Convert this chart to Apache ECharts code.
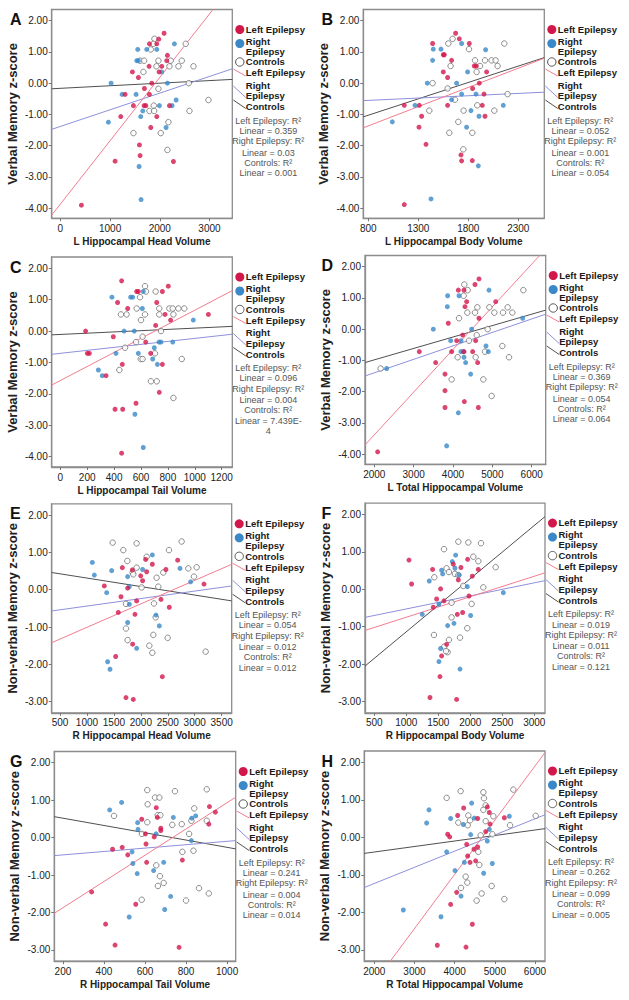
<!DOCTYPE html>
<html><head><meta charset="utf-8">
<script src="https://cdn.jsdelivr.net/npm/echarts@6/dist/echarts.min.js"></script>
<style>html,body{margin:0;padding:0;background:#fff}#c{width:629px;height:1000px}</style>
</head><body><div id="c"></div>
<script>
// ---------------- DATA ----------------
const panelLetters = ['A','B','C','D','E','F','G','H'];
const xTitles = ['L Hippocampal Head Volume','L Hippocampal Body Volume','L Hippocampal Tail Volume','L Total Hippocampal Volume','R Hippocampal Head Volume','R Hippocampal Body Volume','R Hippocampal Tail Volume','R Total Hippocampal Volume'];
const yTitles = ['Verbal Memory z-score','Verbal Memory z-score','Verbal Memory z-score','Verbal Memory z-score','Non-verbal Memory z-score','Non-verbal Memory z-score','Non-verbal Memory z-score','Non-verbal Memory z-score'];
const xTickA = [0,1000,2000,3000];
const xTickB = [800,1300,1800,2300];
const xTickC = [0,200,400,600,800,1000,1200];
const xTickD = [2000,3000,4000,5000,6000];
const xTickE = [500,1000,1500,2000,2500,3000,3500];
const xTickF = [500,1000,1500,2000,2500,3000];
const xTickG = [200,400,600,800,1000];
const xTickH = [2000,3000,4000,5000,6000];
const yTickVerbal = [-4,-3,-2,-1,0,1,2];
const yTickNonverbal = [-3,-2,-1,0,1,2];
const groupNames = ['Left Epilepsy','Right Epilepsy','Controls'];
const r2Left  = ['0.359','0.052','0.096','0.369','0.054','0.019','0.241','0.262'];
const r2Right = ['0.03','0.001','0.004','0.054','0.012','0.011','0.004','0.099'];
const r2Ctrl  = ['0.001','0.054','7.439E-4','0.064','0.012','0.121','0.014','0.005'];

// Panel A
const aLeft = [[2087,1.60],[1980,1.41],[1792,1.26],[1940,1.26],[2154,0.89],[2141,0.72],[1785,0.54],[2040,0.54],[1450,0.36],[1987,0.36],[1570,0.18],[1839,0.00],[1691,-0.17],[1302,-0.36],[1792,-0.36],[1470,-0.72],[1685,-0.72],[1720,-0.72],[2195,-0.72],[1215,-1.07],[1940,-1.07],[1819,-1.42],[1591,-1.98],[1604,-2.32],[1101,-2.50],[2275,-2.51],[423,-3.91]];
const aRight = [[2295,1.26],[1557,1.08],[1738,1.08],[1940,1.08],[1537,0.72],[1570,0.72],[2040,0.36],[1020,0.00],[2154,0.00],[1242,-0.36],[1523,-0.36],[2329,-0.54],[1993,-0.72],[2248,-0.72],[1658,-0.89],[1617,-1.07],[966,-1.25],[2127,-1.42],[1584,-2.67],[1624,-3.73]];
const aCtrl = [[1893,1.42],[2523,1.26],[1872,1.26],[1819,1.08],[1604,0.72],[1685,0.72],[1973,0.72],[2221,0.72],[2443,0.72],[1933,0.54],[2195,0.54],[2376,0.54],[2678,0.54],[1671,0.36],[2584,0.00],[1973,-0.18],[2980,-0.54],[1879,-0.72],[1792,-0.89],[1886,-0.89],[2597,-0.89],[2174,-1.25],[1470,-1.60],[2020,-1.60],[2154,-2.14]];
const aFitLeft = [[-175,-4.23],[3460,3.15]];
const aFitRight = [[-175,-1.48],[3460,0.46]];
const aFitCtrl = [[-175,-0.18],[3460,0.12]];

// Panel B
const bLeft = [[1673,1.60],[1710,1.42],[1443,1.27],[1810,1.27],[1550,0.91],[1560,0.91],[1633,0.73],[1860,0.55],[1880,0.55],[1550,0.36],[1983,0.36],[1593,0.18],[1910,0.00],[1843,-0.17],[1957,-0.35],[1160,-0.71],[1310,-0.71],[1593,-0.71],[1940,-0.71],[1333,-1.06],[1967,-1.06],[1307,-1.41],[1377,-1.96],[1727,-2.30],[1733,-2.49],[1840,-2.48],[1160,-3.89]];
const bRight = [[1450,1.09],[1527,1.09],[1733,1.27],[1973,1.07],[1443,0.73],[1793,0.36],[1390,0.00],[1683,0.00],[1733,-0.35],[1877,-0.35],[1633,-0.53],[1267,-0.71],[2150,-0.71],[1827,-0.88],[1907,-1.06],[1040,-1.24],[1783,-1.41],[1900,-2.65],[1427,-3.71]];
const bCtrl = [[1643,1.42],[1600,1.27],[2160,1.27],[1807,1.09],[1867,0.73],[1967,0.73],[2033,0.73],[2073,0.73],[1623,0.55],[1917,0.55],[2093,0.55],[1883,0.36],[1443,0.00],[1593,-0.17],[1667,-0.53],[2193,-0.35],[1410,-0.88],[1753,-0.88],[1890,-0.71],[2060,-0.88],[1700,-1.24],[1610,-1.59],[1840,-1.59],[1750,-2.12]];
const bFitLeft = [[750,-1.43],[2560,0.80]];
const bFitRight = [[750,-0.56],[2560,-0.29]];
const bFitCtrl = [[750,-1.08],[2560,0.82]];

// Panel C
const cLeft = [[456,1.60],[803,1.43],[568,1.26],[580,1.26],[759,1.26],[426,0.91],[717,0.91],[501,0.72],[779,0.53],[820,0.35],[1101,0.53],[188,0.00],[709,0.18],[394,-0.18],[635,-0.35],[201,-0.71],[216,-0.71],[672,-0.71],[461,-1.06],[759,-1.06],[340,-1.42],[736,-1.95],[563,-2.30],[407,-2.49],[464,-2.49],[456,-3.89]];
const cRight = [[384,1.08],[523,1.08],[538,1.08],[617,1.26],[610,0.72],[989,0.35],[474,0.00],[550,0.00],[734,-0.35],[749,-0.35],[836,-0.35],[414,-0.71],[580,-0.71],[699,-0.53],[687,-0.89],[722,-1.06],[283,-1.24],[312,-1.42],[555,-2.65],[617,-3.71]];
const cCtrl = [[630,1.43],[637,1.26],[709,1.26],[593,1.08],[568,0.72],[736,0.72],[811,0.72],[836,0.72],[878,0.72],[922,0.72],[451,0.53],[493,0.53],[630,0.53],[736,0.53],[841,0.53],[600,0.35],[749,0.00],[612,-0.18],[563,-0.35],[481,-0.53],[598,-0.89],[612,-0.89],[704,-0.71],[903,-0.89],[439,-1.24],[674,-1.60],[717,-1.60],[841,-2.13]];
const cFitLeft = [[-64,-1.72],[1279,1.29]];
const cFitRight = [[-64,-0.74],[1279,-0.10]];
const cFitCtrl = [[-64,-0.12],[1279,0.15]];

// Panel D
const dLeft = [[4661,1.61],[4559,1.43],[4136,1.25],[4280,1.25],[4347,0.88],[5085,0.88],[4305,0.72],[4661,0.35],[3881,0.19],[4246,-0.19],[4093,-0.37],[4576,-0.37],[3144,-0.72],[3966,-0.72],[4280,-0.72],[4500,-0.72],[3559,-1.07],[4627,-1.07],[3797,-1.44],[3797,-1.97],[4288,-2.32],[3797,-2.51],[4644,-2.51],[2085,-3.93]];
const dRight = [[3864,1.07],[4153,1.07],[4915,1.25],[3856,0.72],[5771,0.35],[3500,0.00],[4475,0.00],[3941,-0.37],[4203,-0.37],[4203,-0.72],[4263,-0.72],[4898,-0.72],[4839,-0.54],[4280,-0.90],[4322,-1.07],[2314,-1.26],[4449,-1.44],[4136,-2.68],[3839,-3.74]];
const dCtrl = [[4288,1.43],[4373,1.25],[5788,1.25],[4271,1.07],[4619,0.70],[4924,0.70],[5390,0.70],[4364,0.53],[4559,0.53],[5051,0.53],[5271,0.53],[5508,0.53],[4153,0.35],[4881,0.00],[4602,-0.19],[4407,-0.37],[5254,-0.54],[4814,-0.72],[4119,-0.90],[4576,-0.90],[5424,-0.90],[2161,-1.26],[3966,-1.61],[4771,-1.61],[4983,-2.14]];
const dFitLeft = [[1764,-3.71],[6356,2.57]];
const dFitRight = [[1764,-1.50],[6356,0.48]];
const dFitCtrl = [[1764,-1.07],[6356,0.61]];

// Panel E
const eLeft = [[2089,0.81],[2213,0.68],[2683,0.79],[1656,0.59],[2466,0.54],[1842,0.53],[2108,0.48],[1997,0.37],[2033,0.24],[1322,0.10],[3172,0.15],[1755,0.04],[1632,-0.19],[1922,-0.30],[2374,-0.26],[2528,-0.47],[1582,-0.61],[1891,-0.66],[1848,-1.46],[1533,-1.79],[2399,-2.33],[1724,-2.89],[1860,-2.94]];
const eRight = [[1100,0.73],[2213,0.93],[2726,0.57],[1137,0.39],[1459,0.51],[1755,0.35],[2033,0.54],[2924,0.21],[1786,0.08],[1366,-0.08],[1786,-0.39],[2281,-0.68],[1755,-0.88],[2343,-0.97],[1922,-1.57],[1384,-1.93],[1428,-2.13]];
const eCtrl = [[1477,1.26],[1922,1.24],[2757,1.29],[1675,1.06],[2522,1.06],[2108,0.88],[1749,0.77],[1922,0.59],[1848,0.46],[1860,0.41],[2417,0.46],[2881,0.57],[3036,0.60],[2986,0.35],[2293,0.32],[2324,0.08],[2015,0.06],[1724,-0.38],[2244,-0.37],[2275,-0.74],[1724,-1.04],[1755,-1.35],[2232,-1.21],[2498,-1.29],[2157,-1.50],[2213,-1.69],[3203,-1.66]];
const eFitLeft = [[346,-1.42],[3686,0.68]];
const eFitRight = [[346,-0.57],[3686,0.10]];
const eFitCtrl = [[346,0.46],[3686,-0.30]];

// Panel F
const fLeft = [[1042,0.78],[1083,0.14],[1411,0.53],[1536,0.01],[1474,-0.26],[1422,-0.48],[1589,-0.31],[1734,0.67],[1854,0.58],[1813,0.25],[1958,0.80],[2031,0.35],[2125,0.53],[1979,-0.18],[1880,-0.62],[1797,-0.67],[1630,-1.47],[1552,-1.78],[1526,-2.33],[1370,-2.89],[1786,-2.94]];
const fRight = [[1771,0.91],[1719,0.74],[1552,0.51],[1568,0.41],[1760,0.56],[1823,0.38],[1359,0.22],[1953,0.07],[2516,-0.09],[1510,-0.40],[1250,-0.67],[2005,-0.70],[1646,-0.97],[1745,-0.91],[1536,-1.58],[1510,-1.93],[1839,-2.13]];
const fCtrl = [[1813,1.27],[1969,1.25],[2167,1.23],[1589,1.07],[2047,0.87],[2125,0.75],[1438,0.32],[1630,0.56],[1667,0.46],[1760,0.41],[1813,0.38],[2396,0.59],[2203,0.05],[1891,0.09],[2021,-0.39],[1708,-0.36],[1708,-0.75],[1953,-1.04],[1432,-1.22],[1667,-1.35],[1839,-1.29],[1594,-1.53],[1646,-1.68],[1620,-1.65]];
const fFitLeft = [[355,-1.10],[3167,0.44]];
const fFitRight = [[355,-0.75],[3167,0.23]];
const fFitCtrl = [[355,-2.05],[3167,1.94]];

// Panel G
const gLeft = [[442,-0.31],[489,-0.26],[516,-0.46],[584,0.49],[602,0.10],[605,-0.17],[655,0.80],[660,0.54],[645,0.02],[677,0.25],[677,0.19],[914,0.83],[911,0.36],[943,0.68],[782,-0.60],[608,-0.66],[340,-1.45],[555,-1.78],[408,-2.31],[454,-2.87],[766,-2.93]];
const gRight = [[428,0.74],[486,0.94],[564,0.40],[566,0.22],[654,0.10],[738,0.54],[828,0.52],[847,0.58],[826,-0.08],[537,-0.38],[541,-0.69],[562,-0.96],[642,-0.88],[691,-0.66],[725,-1.57],[696,-1.92],[523,-2.12]];
const gCtrl = [[449,0.58],[611,1.27],[613,0.89],[649,1.07],[670,1.07],[746,1.24],[901,1.29],[611,0.41],[662,0.60],[675,0.60],[585,0.10],[733,0.34],[779,0.36],[840,0.78],[826,0.45],[901,0.45],[815,0.10],[782,-0.38],[836,-0.35],[655,-0.74],[673,-1.03],[691,-1.21],[663,-1.29],[584,-1.66],[800,-1.68],[863,-1.35],[911,-1.49]];
const gFitLeft = [[158,-2.02],[1042,1.08]];
const gFitRight = [[158,-0.48],[1042,-0.08]];
const gFitCtrl = [[158,0.56],[1042,-0.30]];

// Panel H
const hLeft = [[4224,0.78],[4813,0.81],[4863,0.66],[4075,0.58],[4573,0.50],[5237,0.52],[4880,0.35],[4772,0.15],[3826,0.08],[3876,0.01],[4299,-0.19],[4573,-0.26],[4481,-0.32],[4324,-0.50],[4382,-0.67],[4523,-0.63],[4050,-1.47],[3900,-1.79],[4440,-2.32],[3568,-2.88],[4282,-2.93]];
const hRight = [[3361,0.73],[3303,0.38],[3900,0.50],[4423,0.91],[4216,0.34],[4490,0.51],[5361,0.56],[4398,0.07],[4863,0.21],[4813,-0.10],[3801,-0.39],[4241,-0.67],[4938,-0.70],[4008,-0.89],[4722,-0.96],[4158,-1.57],[2722,-1.94],[3660,-2.12]];
const hCtrl = [[3801,1.05],[4149,1.23],[4714,1.20],[4730,1.04],[4772,0.85],[4714,0.73],[5461,1.27],[6017,0.57],[4340,0.58],[4382,0.45],[4091,0.39],[4324,0.32],[4772,0.43],[4963,0.56],[5378,0.32],[4647,0.05],[4938,0.08],[4589,-0.39],[4614,-0.74],[4274,-1.05],[4315,-1.21],[4158,-1.35],[4672,-1.50],[4548,-1.69],[4921,-1.30],[5237,-1.65]];
const hFitLeft = [[1751,-4.24],[6249,2.26]];
const hFitRight = [[1751,-1.34],[6249,0.60]];
const hFitCtrl = [[1751,-0.43],[6249,0.23]];

// ---------------- LAYOUT / STYLE ----------------
const leftSets  = [aLeft,bLeft,cLeft,dLeft,eLeft,fLeft,gLeft,hLeft];
const rightSets = [aRight,bRight,cRight,dRight,eRight,fRight,gRight,hRight];
const ctrlSets  = [aCtrl,bCtrl,cCtrl,dCtrl,eCtrl,fCtrl,gCtrl,hCtrl];
const fitLeftSets  = [aFitLeft,bFitLeft,cFitLeft,dFitLeft,eFitLeft,fFitLeft,gFitLeft,hFitLeft];
const fitRightSets = [aFitRight,bFitRight,cFitRight,dFitRight,eFitRight,fFitRight,gFitRight,hFitRight];
const fitCtrlSets  = [aFitCtrl,bFitCtrl,cFitCtrl,dFitCtrl,eFitCtrl,fFitCtrl,gFitCtrl,hFitCtrl];
const xTickSets = [xTickA,xTickB,xTickC,xTickD,xTickE,xTickF,xTickG,xTickH];

const layout = [
  {left:51.7, top:9.5,   width:180.6, height:208.8, x:[-175,3460], y:[-4.33,2.36]},
  {left:363.3,top:9.5,   width:181,   height:208.8, x:[750,2560],  y:[-4.33,2.36]},
  {left:51.7, top:257,   width:180.6, height:210,   x:[-64,1279],  y:[-4.33,2.36]},
  {left:365,  top:255.5, width:180.7, height:208.8, x:[1764,6356], y:[-4.33,2.36]},
  {left:51.7, top:503.8, width:180,   height:209.1, x:[346,3686],  y:[-3.3,2.3]},
  {left:365,  top:503.1, width:180,   height:209.8, x:[355,3167],  y:[-3.3,2.3]},
  {left:54.3, top:751.5, width:181.4, height:209.7, x:[158,1042],  y:[-3.3,2.3]},
  {left:364.3,top:751,   width:180.7, height:210,   x:[1751,6249], y:[-3.3,2.3]}
];

const RED='#d2174b', BLUE='#3a88c8', PINK='#f27d90', LAV='#8e90dc', DARK='#505050';
const FONT='"Liberation Sans", Arial, sans-serif';

const grids=[], xAxes=[], yAxes=[], series=[], graphics=[];
layout.forEach((L,i)=>{
  grids.push({left:L.left, top:L.top, width:L.width, height:L.height, show:true, borderColor:'#8c8c8c', borderWidth:1.3, backgroundColor:'#fff'});
  xAxes.push({type:'value', gridIndex:i, min:L.x[0], max:L.x[1],
    name:xTitles[i], nameLocation:'middle', nameGap:18,
    nameTextStyle:{fontFamily:FONT, fontWeight:'bold', fontSize:10, color:'#222'},
    axisLine:{show:true, onZero:false, lineStyle:{color:'#8c8c8c', width:1.3}},
    axisTick:{show:true, length:3, customValues:xTickSets[i], lineStyle:{color:'#777'}},
    axisLabel:{customValues:xTickSets[i], margin:5, fontFamily:FONT, fontSize:10, color:'#222', formatter:v=>String(Math.round(v))},
    splitLine:{show:false}});
  const yt = i<4 ? yTickVerbal : yTickNonverbal;
  yAxes.push({type:'value', gridIndex:i, min:L.y[0], max:L.y[1],
    name:yTitles[i], nameLocation:'middle', nameGap:33, nameRotate:90,
    nameTextStyle:{fontFamily:FONT, fontWeight:'bold', fontSize:13, color:'#222'},
    axisLine:{show:true, onZero:false, lineStyle:{color:'#8c8c8c', width:1.3}},
    axisTick:{show:true, length:3, customValues:yt, lineStyle:{color:'#777'}},
    axisLabel:{customValues:yt, margin:4, fontFamily:FONT, fontSize:10, color:'#222', formatter:v=>v.toFixed(2)},
    splitLine:{show:false}});
  const common={xAxisIndex:i, yAxisIndex:i};
  series.push(Object.assign({type:'line', data:fitCtrlSets[i], symbol:'none', lineStyle:{color:DARK,width:1}, silent:true, z:3, clip:true},common));
  series.push(Object.assign({type:'line', data:fitRightSets[i], symbol:'none', lineStyle:{color:LAV,width:1}, silent:true, z:3, clip:true},common));
  series.push(Object.assign({type:'line', data:fitLeftSets[i], symbol:'none', lineStyle:{color:PINK,width:1}, silent:true, z:3, clip:true},common));
  series.push(Object.assign({type:'scatter', name:groupNames[2], data:ctrlSets[i], symbolSize:5.5, itemStyle:{color:'#fff', borderColor:'#707070', borderWidth:1}, z:4},common));
  series.push(Object.assign({type:'scatter', name:groupNames[1], data:rightSets[i], symbolSize:5, itemStyle:{color:BLUE}, z:5},common));
  series.push(Object.assign({type:'scatter', name:groupNames[0], data:leftSets[i], symbolSize:5, itemStyle:{color:RED}, z:5},common));

  // panel letter
  const col = i%2;
  graphics.push({type:'text', style:{text:panelLetters[i], x: col===0?10:321.5, y:L.top+10, fill:'#111', font:'bold 16px '+FONT, textVerticalAlign:'middle', verticalAlign:'middle'}});
  // legend
  const R=L.left+L.width, T=L.top;
  const lt=(txt,dy)=>graphics.push({type:'text', style:{text:txt, x:R+13.5, y:T+dy, fill:'#1a1a1a', font:'bold 9.5px '+FONT, textVerticalAlign:'middle', verticalAlign:'middle'}});
  graphics.push({type:'circle', shape:{cx:R+7.5, cy:T+20, r:4.5}, style:{fill:RED}});
  lt(groupNames[0],19.8);
  graphics.push({type:'circle', shape:{cx:R+7.5, cy:T+34, r:4.5}, style:{fill:BLUE}});
  lt('Right',31.5); lt('Epilepsy',41.5);
  graphics.push({type:'circle', shape:{cx:R+7.5, cy:T+52.5, r:4.2}, style:{fill:'#fff', stroke:'#555', lineWidth:1}});
  lt(groupNames[2],52.3);
  graphics.push({type:'line', shape:{x1:R+1, y1:T+59.5, x2:R+13.5, y2:T+66.5}, style:{stroke:PINK, lineWidth:1}});
  lt(groupNames[0],63.3);
  graphics.push({type:'line', shape:{x1:R+1, y1:T+76.5, x2:R+13.5, y2:T+88}, style:{stroke:LAV, lineWidth:1}});
  lt('Right',75.5); lt('Epilepsy',86.2);
  graphics.push({type:'line', shape:{x1:R+1, y1:T+90.5, x2:R+13.5, y2:T+99}, style:{stroke:DARK, lineWidth:1}});
  lt(groupNames[2],97.3);
  const rt=(txt,dy)=>graphics.push({type:'text', style:{text:txt, x:R+36, y:T+dy, fill:'#555', font:'9px '+FONT, textAlign:'center', align:'center', textVerticalAlign:'middle', verticalAlign:'middle'}});
  rt(groupNames[0]+': R²',111.2);
  rt('Linear = '+r2Left[i],121.4);
  rt(groupNames[1]+': R²',131.8);
  rt('Linear = '+r2Right[i],143.0);
  rt(groupNames[2]+': R²',153.2);
  const cv=r2Ctrl[i];
  if (cv.indexOf('E')>=0){ const k=cv.indexOf('-')+1; rt('Linear = '+cv.slice(0,k),163.8); rt(cv.slice(k),174.2); }
  else rt('Linear = '+cv,163.8);
});

const chart = echarts.init(document.getElementById('c'), null, {renderer:'svg'});
chart.setOption({animation:false, backgroundColor:'#fff', grid:grids, xAxis:xAxes, yAxis:yAxes, series:series, graphic:{elements:graphics}});
</script>
</body></html>
